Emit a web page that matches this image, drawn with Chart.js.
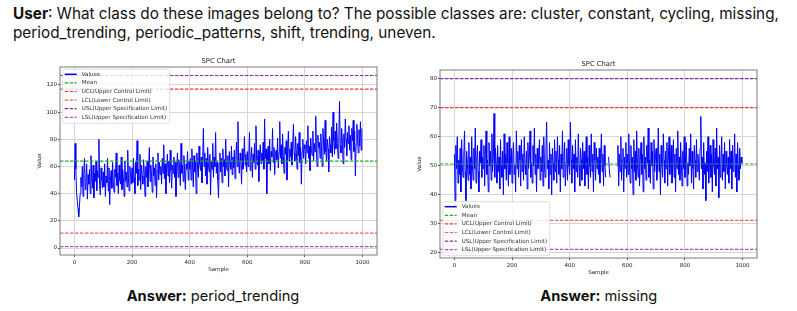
<!DOCTYPE html>
<html>
<head>
<meta charset="utf-8">
<script src="https://cdn.jsdelivr.net/npm/chart.js@4.4.1/dist/chart.umd.min.js"></script>
<style>
  body { margin: 0; width: 797px; height: 311px; background: #fff; position: relative; overflow: hidden; font-family: Inter, "Liberation Sans", sans-serif; color: #111; }
  .q { position: absolute; left: 13px; white-space: nowrap; font-size: 16px; line-height: 19px; }
  #q1 { top: 4px; }
  #q2 { top: 23px; }
  .box { position: absolute; width: 350px; height: 222px; }
  .ans { position: absolute; top: 295.5px; white-space: nowrap; font-size: 16px; line-height: 1; transform: translate(-50%, -50%); }
</style>
</head>
<body>
<div class="q" id="q1"><b>User</b>: What class do these images belong to? The possible classes are: cluster, constant, cycling, missing,</div>
<div class="q" id="q2">period_trending, periodic_patterns, shift, trending, uneven.</div>

<div class="box" style="left:30px; top:55px;"><canvas id="trendChart"></canvas></div>
<div class="box" style="left:410px; top:58.3px;"><canvas id="missingChart"></canvas></div>

<div class="ans" id="ans1" style="left:213px;"><b>Answer:</b> period_trending</div>
<div class="ans" id="ans2" style="left:598.8px;"><b>Answer:</b> missing</div>

<script>
// one value read every 2.5 samples
const sampleStep = 2.5;
const xTicks = [0, 200, 400, 600, 800, 1000];

const limitLabels = ['Mean', 'UCL(Upper Control Limit)', 'LCL(Lower Control Limit)', 'USL(Upper Specification Limit)', 'LSL(Upper Specification Limit)'];

// left chart: period_trending
const trendValues = [
  50, 77, 58, 41, 35, 29, 23, 31, 40, 52, 45, 60, 38, 55, 66, 43, 49, 62, 36, 54,
  47, 58, 40, 68, 51, 44, 61, 37, 55, 49, 64, 42, 57, 52, 80, 46, 39, 59, 50, 44,
  56, 45, 62, 38, 53, 48, 66, 42, 59, 32, 50, 57, 44, 63, 49, 41, 58, 52, 70, 46,
  55, 40, 61, 50, 47, 67, 43, 58, 52, 38, 64, 49, 56, 45, 72, 51, 42, 60, 54, 47,
  59, 48, 66, 52, 40, 63, 55, 79, 46, 58, 50, 69, 43, 61, 53, 47, 65, 56, 38, 60,
  52, 64, 45, 58, 74, 49, 61, 55, 41, 67, 53, 59, 46, 62, 37, 57, 70, 50, 63, 54,
  60, 47, 66, 55, 76, 51, 62, 40, 58, 69, 53, 64, 48, 72, 57, 44, 61, 55, 67, 52,
  63, 38, 57, 70, 52, 65, 59, 46, 77, 55, 61, 49, 68, 56, 43, 62, 58, 71, 50, 64,
  58, 66, 50, 73, 61, 45, 68, 56, 64, 40, 70, 59, 52, 75, 62, 57, 67, 48, 63, 88,
  60, 70, 53, 66, 47, 74, 61, 56, 69, 39, 64, 58, 77, 52, 67, 60, 85, 55, 63, 50,
  37, 62, 70, 56, 66, 48, 73, 60, 65, 53, 80, 61, 57, 68, 45, 71, 63, 58, 75, 54,
  67, 59, 72, 51, 65, 78, 60, 93, 62, 55, 70, 64, 47, 73, 58, 66, 82, 61, 69, 56,
  71, 60, 68, 85, 57, 66, 74, 52, 69, 63, 77, 58, 90, 65, 61, 72, 49, 67, 76, 62,
  70, 64, 78, 58, 95, 66, 73, 40, 68, 75, 62, 80, 57, 71, 67, 88, 63, 74, 54, 69,
  72, 65, 81, 59, 70, 93, 66, 76, 62, 84, 68, 55, 74, 69, 79, 50, 71, 86, 64, 73,
  67, 78, 61, 75, 91, 70, 64, 82, 72, 58, 77, 68, 85, 63, 74, 47, 71, 80, 66, 76,
  73, 62, 79, 70, 90, 66, 75, 57, 81, 72, 68, 86, 64, 77, 71, 97, 69, 60, 83, 74,
  78, 66, 84, 72, 60, 88, 75, 69, 94, 71, 64, 80, 73, 56, 82, 76, 70, 89, 67, 100,
  79, 69, 86, 73, 92, 77, 66, 83, 108, 75, 70, 88, 78, 62, 84, 74, 95, 80, 68, 85,
  77, 90, 72, 83, 65, 88, 79, 94, 71, 86, 53, 76, 91, 81, 70, 87, 75, 93, 72, 88
];
const trendLimitValues = [64, 117, 11, 127, 1];
const trendYTicks = [0, 20, 40, 60, 80, 100, 120];

// right chart: missing (null = no sample recorded)
const missingValues = [
  54, 38, 57, 49, 60, 44, 52, 47, 56, 41, 59, 50, 46, 53, 62, 48, 38, 55, 51, 45,
  58, 47, 53, 42, 60, 50, 45, 56, 49, 63, 44, 52, 57, 48, 41, 55, 51, 59, 46, 53,
  49, 57, 43, 54, 62, 47, 52, 41, 58, 50, 55, 45, 61, 48, 53, 68, 46, 56, 51, 44,
  57, 48, 53, 42, 59, 50, 46, 55, 40, 61, 49, 54, 45, 58, 51, 43, 60, 47, 52, 56,
  44, 53, 58, 47, 50, 41, 62, 49, 55, 46, 57, 52, 43, 59, 48, 54, 45, 60, 50, 47,
  55, 42, 58, 49, 53, 62, 46, 51, 44, 57, 50, 63, 47, 54, 41, 56, 49, 52, 59, 45,
  53, 48, 57, 43, 60, 50, 46, 55, 65, 49, 52, 42, 58, 47, 54, 40, 56, 51, 45, 59,
  48, 55, 44, 60, 52, 47, 57, 41, 54, 49, 62, 46, 53, 58, 43, 51, 56, 45, 59, 50,
  47, 65, 52, 44, 57, 49, 54, 41, 59, 48, 53, 46, 61, 50, 43, 56, 52, 45, 58, 49,
  55, 43, 51, 60, 47, 53, 42, 57, 50, 46, 61, 48, 54, 41, 58, 52, 45, 56, 49, 53,
  47, 56, 44, 52, 61, 48, 54, 43, 57, 50, 46, null, null, null, 53, 49, 46, null, null, null,
  null, null, null, null, null, null, 50, 57, 43, 54, 48, 60, 45, 52, 56, 41, 53, 49, 58, 46,
  54, 47, 61, 50, 44, 57, 49, 53, 40, 59, 48, 55, 45, 62, 51, 46, 56, 43, 52, 58,
  47, 54, 41, 60, 49, 53, 45, 57, 51, 63, 46, 52, 44, 58, 50, 55, 42, 59, 48, 53,
  56, 45, 51, 63, 48, 54, 40, 57, 50, 46, 61, 52, 44, 55, 49, 58, 43, 53, 60, 47,
  52, 57, 44, 50, 59, 46, 54, 41, 56, 49, 62, 47, 53, 45, 58, 51, 43, 55, 49, 60,
  46, 53, 58, 43, 51, 47, 56, 50, 61, 44, 55, 49, 42, 57, 52, 46, 59, 48, 54, 50,
  45, 56, 67, 49, 53, 42, 58, 47, 51, 38, 55, 48, 60, 44, 52, 57, 46, 54, 41, 59,
  50, 47, 56, 43, 63, 49, 53, 39, 57, 46, 52, 60, 45, 54, 48, 58, 42, 55, 50, 47,
  53, 44, 59, 49, 55, 42, 57, 48, 52, 61, 46, 54, 41, 58, 50, 45, 56, 49, 53, 51
];
const missingLimitValues = [50.6, 70, 31.2, 80, 21.2];
const missingYTicks = [20, 30, 40, 50, 60, 70, 80];

const limitColors = ['#22a822', '#ee3a3a', '#f06262', '#8a2aa8', '#b050c0'];
const tickFont = { family: 'DejaVu Sans', size: 5.5 };

// title, frame and matplotlib-like legend drawn on top of the plot
const spcDecor = {
  id: 'spcDecor',
  afterDatasetsDraw(chart, args, opts) {
    const ctx = chart.ctx;
    const a = chart.chartArea;
    ctx.save();
    ctx.strokeStyle = '#7a7a7a';
    ctx.lineWidth = 1;
    ctx.strokeRect(a.left, a.top, a.right - a.left, a.bottom - a.top);

    ctx.fillStyle = '#222';
    ctx.font = '6.8px "DejaVu Sans"';
    ctx.textAlign = 'center';
    ctx.textBaseline = 'middle';
    ctx.fillText('SPC Chart', (a.left + a.right) / 2, a.top - 6);

    const rows = chart.data.datasets;
    const rowH = 8.6;
    const w = 107;
    const h = (rows.length - 1) * rowH + 11;
    const x = a.left + 2.7;
    const y = opts.corner === 'upper' ? a.top + 2.3 : a.bottom - 2.3 - h;
    ctx.fillStyle = 'rgba(255,255,255,0.8)';
    ctx.strokeStyle = 'rgba(204,204,204,0.8)';
    ctx.lineWidth = 0.8;
    ctx.beginPath();
    ctx.roundRect(x, y, w, h, 1.5);
    ctx.fill();
    ctx.stroke();
    ctx.textAlign = 'left';
    ctx.font = '5.6px "DejaVu Sans"';
    rows.forEach((ds, i) => {
      const cy = y + 5 + i * rowH;
      ctx.strokeStyle = ds.borderColor;
      ctx.lineWidth = i === 0 ? 1.5 : 1.2;
      ctx.setLineDash(ds.borderDash || []);
      ctx.beginPath();
      ctx.moveTo(x + 2, cy);
      ctx.lineTo(x + 14, cy);
      ctx.stroke();
      ctx.setLineDash([]);
      ctx.fillStyle = '#333';
      ctx.fillText(ds.label, x + 19, cy);
    });
    ctx.restore();
  }
};

function makeSpc(id, values, limits, yTicks, yMin, yMax, corner) {
  const xMin = -50, xMax = 1050;
  const datasets = [{
    label: 'Values',
    data: values.map((v, i) => ({ x: i * sampleStep, y: v })),
    borderColor: '#0000ff',
    borderWidth: 1,
    pointRadius: 0,
    spanGaps: false,
    order: 1
  }];
  limits.forEach((v, i) => {
    datasets.push({
      label: limitLabels[i],
      data: [{ x: xMin, y: v }, { x: xMax, y: v }],
      borderColor: limitColors[i],
      borderWidth: 1.2,
      borderDash: [3.5, 1.5],
      pointRadius: 0,
      order: 0
    });
  });

  return new Chart(document.getElementById(id), {
    type: 'line',
    data: { datasets },
    options: {
      responsive: true,
      maintainAspectRatio: false,
      animation: false,
      layout: { padding: { top: 12, right: 3, left: 0, bottom: 0 } },
      plugins: {
        legend: { display: false },
        tooltip: { enabled: false },
        spcDecor: { corner }
      },
      scales: {
        x: {
          type: 'linear',
          min: xMin,
          max: xMax,
          afterBuildTicks: s => { s.ticks = xTicks.map(v => ({ value: v })); },
          afterFit: s => { s.height = 22; },
          ticks: { font: tickFont, color: '#222', padding: 2, maxRotation: 0, callback: v => String(v) },
          grid: { color: '#d6d6d6', lineWidth: 1, tickLength: 2, tickColor: '#555' },
          border: { display: false },
          title: { display: true, text: 'Sample', font: tickFont, color: '#222', padding: { top: 0, bottom: 4 } }
        },
        y: {
          min: yMin,
          max: yMax,
          afterBuildTicks: s => { s.ticks = yTicks.map(v => ({ value: v })); },
          afterFit: s => { s.width = 30; },
          ticks: { font: tickFont, color: '#222', padding: 1, callback: v => String(v) },
          grid: { color: '#d6d6d6', lineWidth: 1, tickLength: 2, tickColor: '#555' },
          border: { display: false },
          title: { display: true, text: 'Value', font: tickFont, color: '#222', padding: { top: 6, bottom: 0 } }
        }
      }
    },
    plugins: [spcDecor]
  });
}

makeSpc('trendChart', trendValues, trendLimitValues, trendYTicks, -5.15, 133.25, 'upper');
makeSpc('missingChart', missingValues, missingLimitValues, missingYTicks, 18.2, 83, 'lower');

// size the html text so it spans the same width as the reference
function fitWidth(el, target) {
  const w = el.getBoundingClientRect().width;
  const fs = parseFloat(getComputedStyle(el).fontSize);
  const size = fs * target / w;
  el.style.fontSize = size + 'px';
  return size;
}
const qSize = fitWidth(document.getElementById('q1'), 767);
document.getElementById('q2').style.fontSize = qSize + 'px';
const aSize = fitWidth(document.getElementById('ans1'), 172.7);
document.getElementById('ans2').style.fontSize = aSize + 'px';
</script>
</body>
</html>
